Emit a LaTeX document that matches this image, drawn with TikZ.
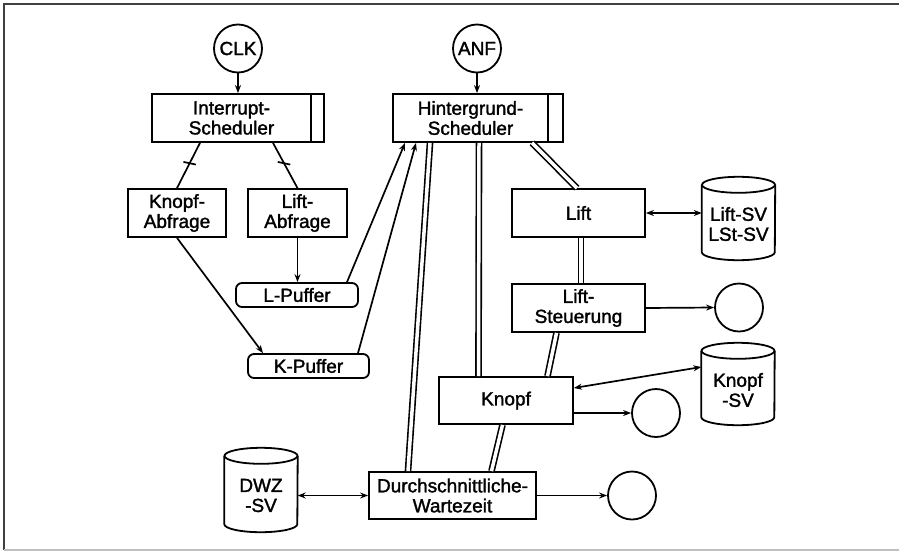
\documentclass[tikz,border=0pt]{standalone}
\usepackage{fontspec}
\setmainfont{Liberation Sans}
\newfontfamily\diagfamily{Liberation Sans}[FakeBold=1.6]
\usetikzlibrary{arrows.meta}
\newcommand\diagfont{\diagfamily\fontsize{19}{20}\selectfont}
% outline of a data store (cylinder) around a named node
\newcommand\drumoutline[1]{%
  \draw[line width=1.8pt] ([yshift=-8pt]#1.north west) -- ([yshift=8pt]#1.south west)
    arc[start angle=180, end angle=360, x radius=36.5pt, y radius=8pt]
    -- ([yshift=-8pt]#1.north east);
  \draw[line width=1.8pt] ([yshift=-8pt]#1.north) ellipse[x radius=36.5pt, y radius=8pt];
}
\begin{document}
\begin{tikzpicture}[x=1pt, y=-1pt,
  proc/.style={draw, line width=1.8pt, rectangle, minimum height=48pt, inner sep=0pt,
    align=center, font=\diagfont},
  bar/.style={draw, line width=1.8pt, rectangle, minimum height=48pt, inner sep=0pt},
  buf/.style={draw, line width=1.8pt, rectangle, rounded corners=6pt, minimum height=24pt,
    inner sep=0pt, align=center, font=\diagfont},
  term/.style={draw, line width=1.8pt, circle, minimum size=48pt, inner sep=0pt, font=\diagfont},
  store/.style={rectangle, inner sep=0pt, minimum width=73pt},
  storetext/.style={inner sep=0pt, align=center, font=\diagfont},
  flow/.style={line width=1.7pt, -{Stealth[length=8pt,width=6pt]}},
  both/.style={line width=1.7pt, {Stealth[length=8pt,width=6pt]}-{Stealth[length=8pt,width=6pt]}},
  link/.style={line width=1.7pt},
  dbl/.style={line width=1.6pt, double, double distance=3.5pt},
  tickmark/.style={inner sep=0pt, minimum width=11pt, minimum height=0pt}
]
\useasboundingbox (0,0) rectangle (899,552);

% frame
\draw[line width=2pt, black!75] (899,4) -- (4,4) -- (4,550);
\draw[line width=1.5pt, black!25] (4,550) -- (899,550);

% terminators
\node[term] (clk) at (238,48.5) {CLK};
\node[term] (anf) at (477,48.5) {ANF};

% schedulers (main box plus narrow side bar sharing one border)
\node[proc, minimum width=159pt] (isched) at (231.5,118) {Interrupt-\\Scheduler};
\node[bar, minimum width=12.8pt, anchor=west, xshift=-1.8pt] (ischedbar) at (isched.east) {};
\node[proc, minimum width=155pt] (hsched) at (470.5,118) {Hintergrund-\\Scheduler};
\node[bar, minimum width=14.8pt, anchor=west, xshift=-1.8pt] (hschedbar) at (hsched.east) {};

% polling processes and buffers
\node[proc, minimum width=98pt] (kabf) at (177,213) {Knopf-\\Abfrage};
\node[proc, minimum width=99pt] (labf) at (297.5,213) {Lift-\\Abfrage};
\node[buf, minimum width=122pt] (lpuf) at (297,295) {L-Puffer};
\node[buf, minimum width=121pt] (kpuf) at (308.5,366) {K-Puffer};

% background processes
\node[proc, minimum width=133pt] (lift) at (578.5,213) {Lift};
\node[proc, minimum width=133pt] (lst) at (578.5,308) {Lift-\\Steuerung};
\node[proc, minimum width=134pt, minimum height=47pt] (knopf) at (506,400.5) {Knopf};
\node[proc, minimum width=167pt, minimum height=47pt] (dwz) at (452.5,495.5) {Durchschnittliche-\\Wartezeit};

% data stores
\node[store, minimum height=83pt] (liftsv) at (738.5,218.5) {};
\drumoutline{liftsv}
\node[storetext] (liftsvtxt) at (738.5,224) {Lift-SV\\LSt-SV};
\node[store, minimum height=82pt] (knopfsv) at (738,384) {};
\drumoutline{knopfsv}
\node[storetext] (knopfsvtxt) at (738,390) {Knopf\\-SV};
\node[store, minimum height=84pt] (dwzsv) at (261,490) {};
\drumoutline{dwzsv}
\node[storetext] (dwzsvtxt) at (261,495.5) {DWZ\\-SV};

% output terminators
\node[term] (out1) at (739,307.5) {};
\node[term] (out2) at (656,413) {};
\node[term] (out3) at (632,495.5) {};

% activation
\draw[flow] (clk.south) -- (clk.south |- isched.north);
\draw[flow] (anf.south) -- (anf.south |- hsched.north);

% interrupt scheduler calls
\draw[link] ([xshift=-31.5pt]isched.south) -- node[tickmark, pos=0.45, rotate=-12] (tk1) {} (kabf.north);
\draw[link] (tk1.west) -- (tk1.east);
\draw[link] ([xshift=41.5pt]isched.south) -- node[tickmark, pos=0.45, rotate=-12] (tk2) {} (labf.north);
\draw[link] (tk2.west) -- (tk2.east);

% buffer flows
\draw[flow] (labf.south) -- (labf.south |- lpuf.north);
\draw[flow] (kabf.south) -- ([xshift=-45.5pt]kpuf.north);
\draw[flow] ([xshift=50pt]lpuf.north) -- ([xshift=-65.5pt]hsched.south);
\draw[flow] ([xshift=49.5pt]kpuf.north) -- ([xshift=-54.5pt]hsched.south);

% background scheduler calls
\draw[dbl] ([xshift=-40.5pt]hsched.south) -- ([xshift=-44.5pt]dwz.north);
\draw[dbl] ([xshift=8.5pt]hsched.south) -- ([xshift=-27.5pt]knopf.north);
\draw[dbl] ([xshift=61.5pt]hsched.south) -- ([xshift=-1.5pt]lift.north);
\draw[dbl] ([xshift=2.5pt]lift.south) -- ([xshift=2.5pt]lst.north);
\draw[dbl] ([xshift=-22pt]lst.south) -- ([xshift=41.5pt]knopf.north);
\draw[dbl] ([xshift=-3.5pt]knopf.south) -- ([xshift=39pt]dwz.north);

% data store access
\draw[both] (lift.east) -- (lift.east -| liftsv.west);
\draw[both] ([yshift=12.5pt]knopf.east) -- ([yshift=17pt]knopfsv.west);
\draw[both] (dwzsv.east |- dwz.west) -- (dwz.west);

% outputs
\draw[flow] (lst.east) -- (out1.west);
\draw[flow] (out2.west -| knopf.east) -- (out2.west);
\draw[flow] (dwz.east) -- (out3.west);
\end{tikzpicture}
\end{document}
